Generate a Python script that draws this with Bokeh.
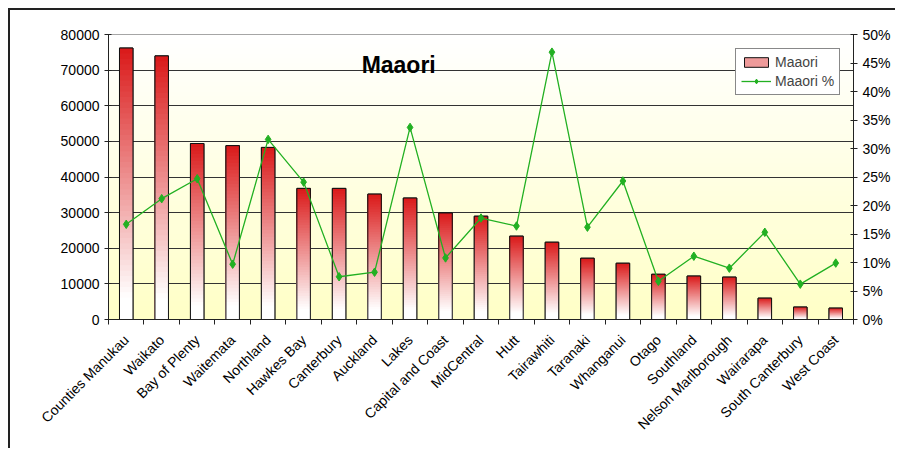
import numpy as np
from bokeh.plotting import figure
from bokeh.models import (Range1d, LinearAxis, FixedTicker, PrintfTickFormatter,
                          Legend, LegendItem, Label)
from bokeh.embed import file_html
from bokeh.resources import INLINE

categories = ["Counties Manukau", "Waikato", "Bay of Plenty", "Waitemata", "Northland",
              "Hawkes Bay", "Canterbury", "Auckland", "Lakes", "Capital and Coast",
              "MidCentral", "Hutt", "Tairawhiti", "Taranaki", "Whanganui", "Otago",
              "Southland", "Nelson Marlborough", "Wairarapa", "South Canterbury", "West Coast"]
maaori = [76200, 74000, 49400, 48800, 48300, 36800, 36800, 35200, 34100, 29900,
          29000, 23400, 21700, 17200, 15800, 12700, 12200, 11900, 6000, 3500, 3200]
maaori_pct = [16.7, 21.2, 24.7, 9.7, 31.6, 24.1, 7.5, 8.3, 33.7, 10.8,
              17.8, 16.4, 46.9, 16.2, 24.3, 6.7, 11.1, 9.0, 15.3, 6.2, 9.9]
left_ticks = [0, 10000, 20000, 30000, 40000, 50000, 60000, 70000, 80000]
right_ticks = [0, 5, 10, 15, 20, 25, 30, 35, 40, 45, 50]

FONT = "Liberation Sans"
GREEN = "#22B022"
n = len(categories)
xc = np.arange(1, n + 1)

p = figure(frame_width=745, frame_height=285,
           x_range=Range1d(0.5, n + 0.5), y_range=Range1d(0, 80000),
           output_backend="svg", toolbar_location=None,
           min_border_left=98, min_border_top=24, min_border_right=42, min_border_bottom=129,
           background_fill_color="white", border_fill_color="white")
p.styles = {"border-left": "2px solid #222222", "border-top": "2px solid #222222",
            "margin-left": "8px", "margin-top": "8px"}
p.extra_y_ranges = {"pct": Range1d(0, 50)}

# plot-area gradient background (white top -> pale yellow bottom)
NB = 60
bg_top = np.linspace(80000, 80000 / NB, NB)
bg_col = []
for t in bg_top:
    f = 1 - t / 80000.0
    b = int(round(255 + (198 - 255) * (f + 0.5 / NB)))
    bg_col.append("#%02x%02x%02x" % (255, 255, max(0, min(255, b))))
bg = p.quad(left=[0.5] * NB, right=[n + 0.5] * NB, bottom=[0] * NB, top=list(bg_top),
            fill_color=bg_col, line_color=None)
bg.level = "image"

# base bars (used as legend swatch, covered by gradient)
base = p.vbar(x=xc, bottom=0, top=maaori, width=0.38, fill_color="#EE9A9A",
              line_color="#111111", line_width=1)

# bar gradients (red top -> white bottom)
N = 50
red = np.array([218, 24, 24], dtype=float)
white = np.array([255, 255, 255], dtype=float)
sx, stop, scol = [], [], []
for x, v in zip(xc, maaori):
    for k in range(N - 1, -1, -1):
        t = (k + 0.5) / N
        f = min(1.0, max(0.0, (t - 0.08) / 0.92))
        c = white + (red - white) * f
        sx.append(x)
        stop.append(v * (k + 1) / N)
        scol.append("#%02x%02x%02x" % tuple(int(round(cc)) for cc in c))
p.vbar(x=sx, bottom=0, top=stop, width=0.38, fill_color=scol, line_color=None)
p.vbar(x=xc, bottom=0, top=maaori, width=0.38, fill_color=None, line_color="#111111", line_width=1)

ln = p.line(xc, maaori_pct, y_range_name="pct", line_color=GREEN, line_width=1.3)
sc = p.scatter(xc, maaori_pct, y_range_name="pct", marker="diamond", size=8.5,
               fill_color=GREEN, line_color=GREEN)

legend = Legend(items=[LegendItem(label="Maaori", renderers=[base]),
                       LegendItem(label="Maaori %", renderers=[ln, sc])],
                location=(627, 224), label_text_font=FONT, label_text_font_size="14px",
                glyph_width=30, glyph_height=12, label_standoff=4, padding=5, spacing=3,
                border_line_color="#111111", border_line_width=1, margin=0,
                background_fill_color="white", background_fill_alpha=1)
p.add_layout(legend)

# title inside plot
p.add_layout(Label(x=8.68, y=71500, text="Maaori", text_font=FONT, text_font_size="23px",
                   text_font_style="bold", text_align="center", text_baseline="alphabetic",
                   text_color="black"))

# axes
p.xgrid.visible = False
p.ygrid.grid_line_color = "#333333"
p.ygrid.grid_line_width = 1
p.outline_line_color = "#888888"

p.yaxis.ticker = FixedTicker(ticks=left_ticks)
p.yaxis.formatter = PrintfTickFormatter(format="%d")
ax_r = LinearAxis(y_range_name="pct", ticker=FixedTicker(ticks=right_ticks),
                  formatter=PrintfTickFormatter(format="%d%%"))
p.add_layout(ax_r, "right")

for ax in [p.yaxis[0], ax_r]:
    ax.major_tick_in = 3
    ax.major_tick_out = 4
    ax.minor_tick_line_color = None
    ax.major_label_standoff = 5
    ax.axis_line_color = "#222222"
    ax.major_tick_line_color = "#222222"
    ax.major_label_text_font = FONT
    ax.major_label_text_font_size = "14px"
    ax.major_label_text_color = "black"

xa = p.xaxis[0]
xa.ticker = FixedTicker(ticks=list(xc), minor_ticks=list(np.arange(0.5, n + 1, 1.0)))
xa.major_label_overrides = {int(i): c for i, c in zip(xc, categories)}
xa.major_tick_line_color = None
xa.major_tick_in = 0
xa.major_tick_out = 0
xa.minor_tick_in = 0
xa.minor_tick_out = 5
xa.minor_tick_line_color = "#222222"
xa.axis_line_color = "#222222"
xa.major_label_orientation = np.pi / 4
xa.major_label_standoff = 13
xa.major_label_text_font = FONT
xa.major_label_text_font_size = "14px"
xa.major_label_text_color = "black"

open("out.html", "w").write(file_html(p, INLINE))
